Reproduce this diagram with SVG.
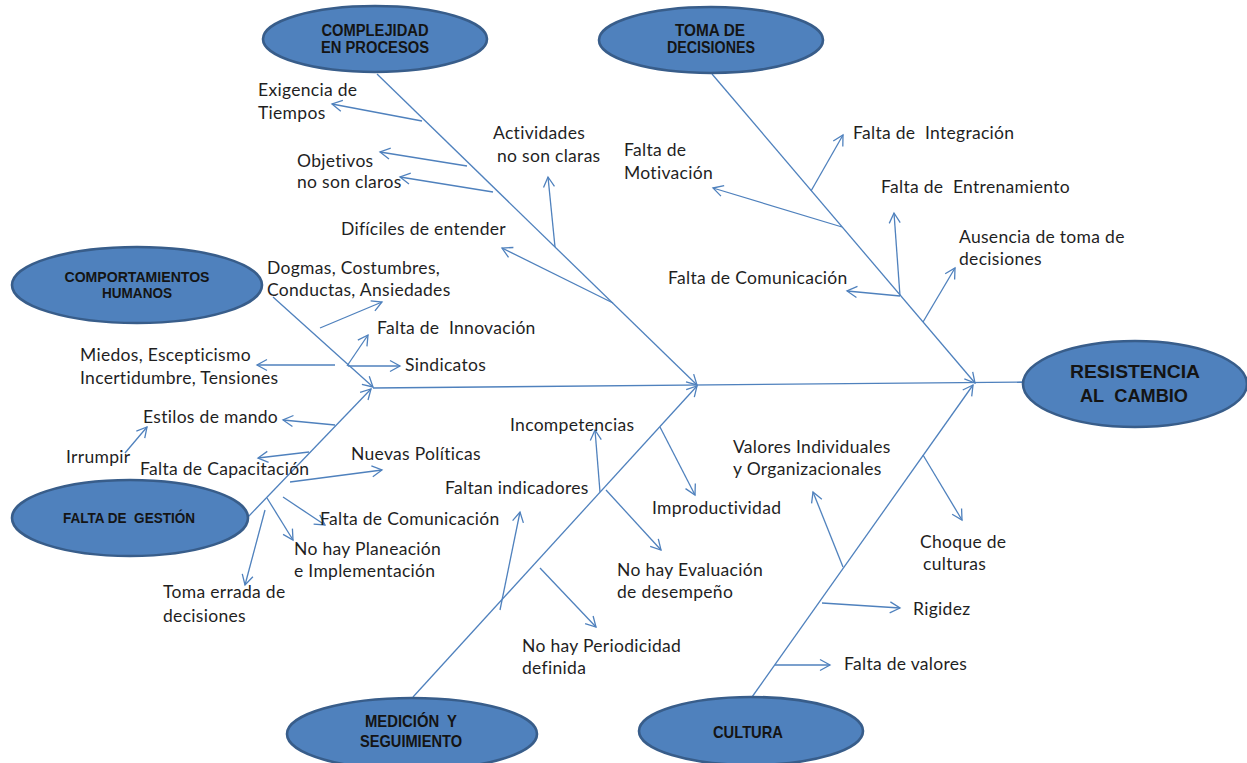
<svg xmlns="http://www.w3.org/2000/svg" width="1247" height="763" viewBox="0 0 1247 763">
<style>
.bg{fill:#ffffff}
.ell{fill:#4F81BD;stroke:#385D8A;stroke-width:2.6}
.et{font-family:"Liberation Sans",Arial,sans-serif;font-weight:bold;fill:#141414;text-anchor:middle}
.lbl{font-family:Lato,"Open Sans",sans-serif;font-size:17.5px;letter-spacing:0.3px;fill:#1f1f1f}
.ln{stroke:#4F81BD;stroke-width:1.3;fill:none}
.arr{marker-end:url(#ah)}
</style>
<defs>
<marker id="ah" markerUnits="userSpaceOnUse" markerWidth="24" markerHeight="24" viewBox="-12 -12 24 24" refX="0" refY="0" orient="auto">
<path d="M-10,-5.5 L0,0 L-10,5.5" fill="none" stroke="#4F81BD" stroke-width="1.3"/>
</marker>
</defs>
<rect class="bg" x="0" y="0" width="1247" height="763"/>

<g id="connectors">
<line class="ln" x1="373" y1="388" x2="1023" y2="382"/>
<line class="ln arr" x1="377" y1="74" x2="697" y2="385"/>
<line class="ln arr" x1="712" y1="74" x2="975" y2="383"/>
<line class="ln arr" x1="273" y1="297" x2="373" y2="387"/>
<line class="ln arr" x1="248" y1="517" x2="371" y2="389"/>
<line class="ln arr" x1="413" y1="697" x2="697" y2="386"/>
<line class="ln arr" x1="752" y1="697" x2="973" y2="385"/>

<line class="ln arr" x1="422" y1="121" x2="332" y2="104"/>
<line class="ln arr" x1="467" y1="166" x2="380" y2="152"/>
<line class="ln arr" x1="493" y1="192" x2="400" y2="177"/>
<line class="ln arr" x1="555" y1="247" x2="548" y2="177"/>
<line class="ln arr" x1="613" y1="303" x2="502" y2="248"/>

<line class="ln arr" x1="842" y1="227" x2="713" y2="188"/>
<line class="ln arr" x1="811" y1="191" x2="843" y2="135"/>
<line class="ln arr" x1="900" y1="296" x2="894" y2="213"/>
<line class="ln arr" x1="900" y1="296" x2="847" y2="291"/>
<line class="ln arr" x1="923" y1="322" x2="955" y2="268"/>

<line class="ln arr" x1="320" y1="328" x2="382" y2="302"/>
<line class="ln arr" x1="347" y1="366" x2="368" y2="335"/>
<line class="ln arr" x1="348" y1="366" x2="400" y2="366"/>
<line class="ln arr" x1="335" y1="365" x2="257" y2="365"/>

<line class="ln arr" x1="335" y1="425" x2="283" y2="420"/>
<line class="ln arr" x1="125" y1="453" x2="147" y2="427"/>
<line class="ln arr" x1="309" y1="452" x2="258" y2="458"/>
<line class="ln arr" x1="290" y1="482" x2="382" y2="470"/>
<line class="ln arr" x1="283" y1="497" x2="325" y2="525"/>
<line class="ln arr" x1="267" y1="498" x2="293" y2="540"/>
<line class="ln arr" x1="265" y1="510" x2="245" y2="585"/>

<line class="ln arr" x1="600" y1="492" x2="595" y2="430"/>
<line class="ln arr" x1="500" y1="610" x2="520" y2="512"/>
<line class="ln arr" x1="660" y1="427" x2="695" y2="495"/>
<line class="ln arr" x1="606" y1="490" x2="661" y2="550"/>
<line class="ln arr" x1="540" y1="568" x2="596" y2="627"/>

<line class="ln arr" x1="843" y1="567" x2="813" y2="492"/>
<line class="ln arr" x1="923" y1="455" x2="962" y2="520"/>
<line class="ln arr" x1="822" y1="603" x2="900" y2="608"/>
<line class="ln arr" x1="775" y1="665" x2="830" y2="665"/>
</g>

<g id="complejidad">
<ellipse class="ell" cx="375" cy="39" rx="112" ry="33"/>
<text class="et" x="375" y="36" font-size="16" textLength="107" lengthAdjust="spacingAndGlyphs">COMPLEJIDAD</text>
<text class="et" x="375" y="53" font-size="16" textLength="108" lengthAdjust="spacingAndGlyphs">EN PROCESOS</text>
</g>
<g id="toma">
<ellipse class="ell" cx="711" cy="40" rx="112" ry="33"/>
<text class="et" x="710" y="36" font-size="16" textLength="70" lengthAdjust="spacingAndGlyphs">TOMA  DE</text>
<text class="et" x="711" y="53" font-size="16" textLength="88" lengthAdjust="spacingAndGlyphs">DECISIONES</text>
</g>
<g id="comportamientos">
<ellipse class="ell" cx="137" cy="285" rx="125" ry="38"/>
<text class="et" x="137" y="282" font-size="14" textLength="145" lengthAdjust="spacingAndGlyphs">COMPORTAMIENTOS</text>
<text class="et" x="137" y="298" font-size="14" textLength="70" lengthAdjust="spacingAndGlyphs">HUMANOS</text>
</g>
<g id="gestion">
<ellipse class="ell" cx="130" cy="518" rx="118" ry="38"/>
<text class="et" x="129" y="523" font-size="14" textLength="132" lengthAdjust="spacingAndGlyphs">FALTA DE&#160; GESTIÓN</text>
</g>
<g id="medicion">
<ellipse class="ell" cx="412" cy="734" rx="125" ry="36"/>
<text class="et" x="411" y="727" font-size="16.5" textLength="92" lengthAdjust="spacingAndGlyphs">MEDICIÓN&#160; Y</text>
<text class="et" x="411" y="747" font-size="16.5" textLength="102" lengthAdjust="spacingAndGlyphs">SEGUIMIENTO</text>
</g>
<g id="cultura">
<ellipse class="ell" cx="751" cy="731" rx="112" ry="34"/>
<text class="et" x="748" y="738" font-size="17" textLength="70" lengthAdjust="spacingAndGlyphs">CULTURA</text>
</g>
<g id="resistencia">
<ellipse class="ell" cx="1135" cy="384" rx="112" ry="43"/>
<text class="et" x="1135" y="378" font-size="18.5" textLength="130" lengthAdjust="spacingAndGlyphs">RESISTENCIA</text>
<text class="et" x="1134" y="402" font-size="18.5" textLength="108" lengthAdjust="spacingAndGlyphs">AL&#160; CAMBIO</text>
</g>

<g id="labels">
<text class="lbl" x="258" y="96">Exigencia de</text>
<text class="lbl" x="258" y="119">Tiempos</text>
<text class="lbl" x="297" y="167">Objetivos</text>
<text class="lbl" x="297" y="188">no son claros</text>
<text class="lbl" x="493" y="139">Actividades</text>
<text class="lbl" x="497" y="162">no son claras</text>
<text class="lbl" x="341" y="235">Difíciles de entender</text>

<text class="lbl" x="624" y="156">Falta de</text>
<text class="lbl" x="624" y="179">Motivación</text>
<text class="lbl" x="853" y="139">Falta de&#160; Integración</text>
<text class="lbl" x="881" y="193">Falta de&#160; Entrenamiento</text>
<text class="lbl" x="959" y="243">Ausencia de toma de</text>
<text class="lbl" x="959" y="265">decisiones</text>
<text class="lbl" x="668" y="284">Falta de Comunicación</text>

<text class="lbl" x="267" y="274">Dogmas, Costumbres,</text>
<text class="lbl" x="267" y="296">Conductas, Ansiedades</text>
<text class="lbl" x="377" y="334">Falta de&#160; Innovación</text>
<text class="lbl" x="405" y="371">Sindicatos</text>
<text class="lbl" x="80" y="361">Miedos, Escepticismo</text>
<text class="lbl" x="80" y="384">Incertidumbre, Tensiones</text>

<text class="lbl" x="143" y="423">Estilos de mando</text>
<text class="lbl" x="66" y="463">Irrumpir</text>
<text class="lbl" x="140" y="475">Falta de Capacitación</text>
<text class="lbl" x="351" y="460">Nuevas Políticas</text>
<text class="lbl" x="320" y="525">Falta de Comunicación</text>
<text class="lbl" x="294" y="555">No hay Planeación</text>
<text class="lbl" x="294" y="577">e Implementación</text>
<text class="lbl" x="163" y="598">Toma errada de</text>
<text class="lbl" x="163" y="622">decisiones</text>

<text class="lbl" x="510" y="431">Incompetencias</text>
<text class="lbl" x="445" y="494">Faltan indicadores</text>
<text class="lbl" x="652" y="514">Improductividad</text>
<text class="lbl" x="617" y="576">No hay Evaluación</text>
<text class="lbl" x="617" y="598">de desempeño</text>
<text class="lbl" x="522" y="652">No hay Periodicidad</text>
<text class="lbl" x="522" y="674">definida</text>

<text class="lbl" x="733" y="453">Valores Individuales</text>
<text class="lbl" x="733" y="475">y Organizacionales</text>
<text class="lbl" x="920" y="548">Choque de</text>
<text class="lbl" x="923" y="570">culturas</text>
<text class="lbl" x="913" y="615">Rigidez</text>
<text class="lbl" x="844" y="670">Falta de valores</text>
</g>
</svg>
